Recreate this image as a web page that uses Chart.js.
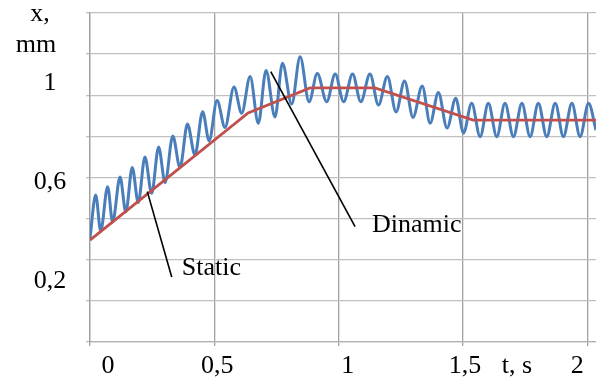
<!DOCTYPE html>
<html>
<head>
<meta charset="utf-8">
<script src="https://cdn.jsdelivr.net/npm/chart.js@4"></script>
<style>
  html, body { margin: 0; padding: 0; background: #fff; }
  #wrap { width: 596px; height: 385px; position: relative; }
</style>
</head>
<body>
<div id="wrap"><canvas id="myChart"></canvas></div>
<script>
// dynamic response (peaks / troughs), t in s, x in mm
const tDyn = [0, 0.023, 0.043, 0.071, 0.091, 0.121, 0.144, 0.170, 0.194, 0.221, 0.248, 0.276, 0.302, 0.333, 0.362, 0.392,
  0.422, 0.453, 0.479, 0.511, 0.543, 0.579, 0.610, 0.644, 0.677, 0.708, 0.744, 0.774, 0.811, 0.845, 0.881, 0.914,
  0.952, 0.986, 1.020, 1.056, 1.089, 1.126, 1.160, 1.196, 1.231, 1.265, 1.299, 1.336, 1.368, 1.401, 1.436, 1.471,
  1.502, 1.535, 1.569, 1.602, 1.636, 1.669, 1.703, 1.737, 1.770, 1.803, 1.837, 1.871, 1.904, 1.938, 1.971, 2.005, 2.035];
const xDyn = [0.370, 0.544, 0.399, 0.578, 0.435, 0.617, 0.476, 0.655, 0.514, 0.698, 0.551, 0.738, 0.594, 0.783, 0.655, 0.831,
  0.706, 0.881, 0.763, 0.926, 0.817, 0.981, 0.875, 1.023, 0.834, 1.048, 0.860, 1.077, 0.912, 1.103, 0.921, 1.035,
  0.921, 1.033, 0.921, 1.033, 0.921, 1.033, 0.908, 1.023, 0.880, 1.005, 0.858, 0.985, 0.834, 0.959, 0.815, 0.935,
  0.795, 0.915, 0.780, 0.915, 0.780, 0.915, 0.780, 0.915, 0.780, 0.915, 0.780, 0.915, 0.780, 0.915, 0.780, 0.915, 0.807];

// static response
const tStat = [0, 0.636, 0.885, 1.146, 1.541, 2.035];
const xStat = [0.362, 0.876, 0.977, 0.977, 0.847, 0.847];

// pointer lines for the two callouts
const tPtrStatic = [0.2305, 0.3286];
const xPtrStatic = [0.558, 0.213];
const tPtrDyn = [0.727, 1.066];
const xPtrDyn = [1.043, 0.416];

const xTickVals = [0, 0.5, 1, 1.5, 2];
const xTickText = ['0', '0,5', '1', '1,5', '2'];
const yLabelVals = [1, 0.6, 0.2];
const yLabelText = ['1', '0,6', '0,2'];

const Y_MIN = -0.05, Y_MAX = 1.28, X_MIN = 0, X_MAX = 2.035;

function pts(xs, ys) { return xs.map((v, i) => ({ x: v, y: ys[i] })); }

const serif = "'Liberation Serif', 'Times New Roman', serif";

const textPlugin = {
  id: 'texts',
  afterDraw(chart) {
    const ctx = chart.ctx;
    const xs = chart.scales.x, ys = chart.scales.y;
    const area = chart.chartArea;
    ctx.save();
    ctx.fillStyle = '#000';
    ctx.font = '26px ' + serif;
    ctx.textAlign = 'center';
    ctx.textBaseline = 'alphabetic';
    // y labels
    yLabelText.forEach((s, i) => {
      ctx.fillText(s, area.left - 40, ys.getPixelForValue(yLabelVals[i]) + 8);
    });
    // axis title
    ctx.fillText('x,', area.left - 50, 21);
    ctx.fillText('mm', area.left - 54, 52);
    // x labels
    const nudge = [18, 3, 9, 2, -10];
    xTickText.forEach((s, i) => {
      ctx.fillText(s, xs.getPixelForValue(xTickVals[i]) + nudge[i], area.bottom + 31);
    });
    ctx.fillText('t, s', xs.getPixelForValue(1.5) + 54, area.bottom + 31);
    // callouts
    ctx.textAlign = 'left';
    ctx.fillText('Static', xs.getPixelForValue(tPtrStatic[1]) + 10, ys.getPixelForValue(xPtrStatic[1]) - 2);
    ctx.fillText('Dinamic', xs.getPixelForValue(tPtrDyn[1]) + 17, ys.getPixelForValue(xPtrDyn[1]) + 5);
    ctx.restore();
  }
};

const config = {
  type: 'line',
  data: {
    datasets: [
      {
        label: 'Dinamic',
        data: pts(tDyn, xDyn),
        borderColor: '#4a7ebb',
        borderWidth: 3,
        pointRadius: 0,
        cubicInterpolationMode: 'monotone',
        order: 2
      },
      {
        label: 'Static',
        data: pts(tStat, xStat),
        borderColor: '#c0504d',
        borderWidth: 2.8,
        pointRadius: 0,
        tension: 0,
        order: 1
      },
      {
        data: pts(tPtrStatic, xPtrStatic),
        borderColor: '#000',
        borderWidth: 1.6,
        pointRadius: 0,
        tension: 0,
        clip: false,
        order: 0
      },
      {
        data: pts(tPtrDyn, xPtrDyn),
        borderColor: '#000',
        borderWidth: 1.6,
        pointRadius: 0,
        tension: 0,
        clip: false,
        order: 0
      }
    ]
  },
  options: {
    responsive: true,
    maintainAspectRatio: false,
    animation: false,
    layout: { padding: { left: 86, right: 0, top: 13, bottom: 39 } },
    scales: {
      x: {
        type: 'linear',
        min: X_MIN,
        max: X_MAX,
        afterBuildTicks: (sc) => { sc.ticks = xTickVals.map(v => ({ value: v })); },
        ticks: { display: false },
        grid: { color: '#a0a0a0', lineWidth: 1.3, tickLength: 4 },
        border: { color: '#b0b0b0', width: 1.3 }
      },
      y: {
        type: 'linear',
        min: Y_MIN,
        max: Y_MAX,
        afterBuildTicks: (sc) => {
          const n = 8, step = (Y_MAX - Y_MIN) / n;
          sc.ticks = Array.from({ length: n + 1 }, (_, i) => ({ value: Y_MIN + i * step }));
        },
        ticks: { display: false },
        grid: { color: '#c0c0c0', lineWidth: 1.3, tickLength: 4 },
        border: { color: '#a0a0a0', width: 1.3 }
      }
    },
    plugins: {
      legend: { display: false },
      tooltip: { enabled: false }
    }
  },
  plugins: [textPlugin]
};

const myChart = new Chart(document.getElementById('myChart'), config);
</script>
</body>
</html>
